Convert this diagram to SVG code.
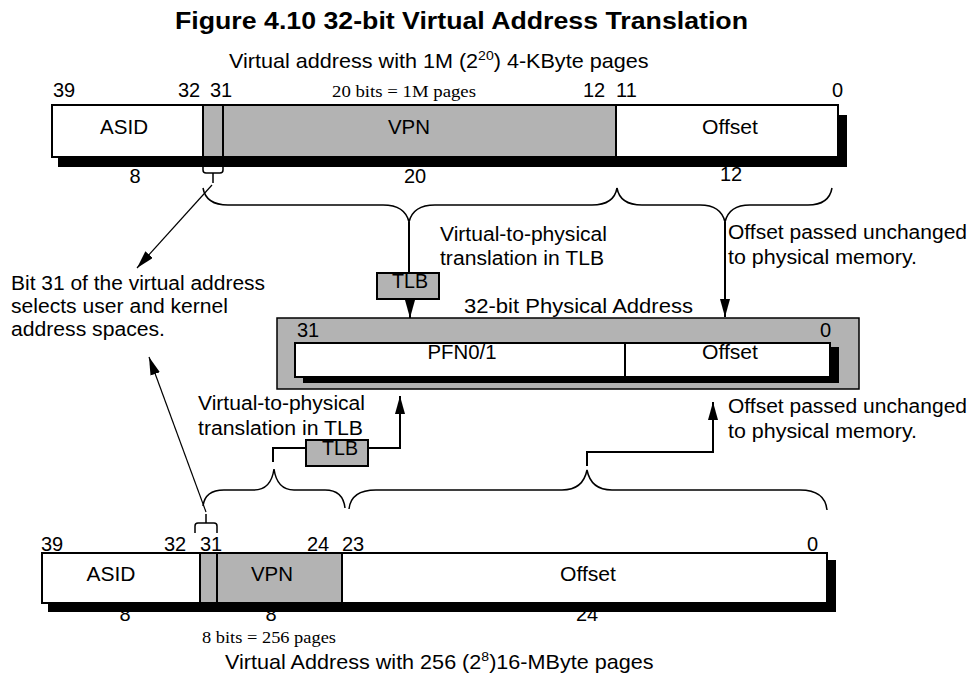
<svg xmlns="http://www.w3.org/2000/svg" width="974" height="686" viewBox="0 0 974 686">
<style>
text{font-family:"Liberation Sans",Arial,sans-serif;font-size:20px;fill:#000}
.serif{font-family:"Liberation Serif","Times New Roman",serif;font-size:16.5px}
.title{font-weight:bold;font-size:23px}
.mid{text-anchor:middle}
.box{fill:#fff;stroke:#000;stroke-width:2}
.gray{fill:#b3b3b3}
.sh{fill:#000}
.ln{stroke:#000;stroke-width:2;fill:none}
.br{stroke:#000;stroke-width:1.5;fill:none}
.thin{stroke:#000;stroke-width:1.2;fill:none}
.tlb{fill:#b3b3b3;stroke:#000;stroke-width:2}
</style>
<defs>
<marker id="ah" viewBox="0 0 18 10" refX="18" refY="5" markerWidth="18" markerHeight="10" markerUnits="userSpaceOnUse" orient="auto">
<path d="M0,0 L18,5 L0,10 z" fill="#000"/>
</marker>
</defs>

<g id="title">
<text class="title" x="175" y="29" textLength="573" lengthAdjust="spacingAndGlyphs">Figure 4.10  32-bit Virtual Address Translation</text>
</g>

<g id="va-top-caption">
<text transform="translate(229,68) scale(1.08,1)">Virtual address with 1M (2<tspan font-size="13" dy="-8">20</tspan><tspan dy="8">) 4-KByte pages</tspan></text>
</g>

<g id="va-top">
<text x="53" y="97">39</text>
<text x="178" y="97">32</text>
<text x="210" y="97">31</text>
<text class="serif" x="332" y="97" textLength="144" lengthAdjust="spacingAndGlyphs">20 bits = 1M pages</text>
<text x="583" y="97">12</text>
<text x="616" y="97">11</text>
<text x="832" y="97">0</text>
<rect class="sh" x="58" y="157" width="789" height="10"/>
<rect class="sh" x="838" y="115" width="9" height="52"/>
<rect class="box" x="52" y="105" width="786" height="52"/>
<rect class="gray" x="203" y="106" width="413" height="50"/>
<line class="ln" x1="203" y1="105" x2="203" y2="157"/>
<line class="ln" x1="223" y1="105" x2="223" y2="157"/>
<line class="ln" x1="616" y1="105" x2="616" y2="157"/>
<text class="mid" x="124" y="134" textLength="48" lengthAdjust="spacingAndGlyphs">ASID</text>
<text class="mid" x="409" y="134" textLength="42" lengthAdjust="spacingAndGlyphs">VPN</text>
<text class="mid" x="730" y="134" textLength="56" lengthAdjust="spacingAndGlyphs">Offset</text>
<text class="mid" x="135" y="183">8</text>
<text class="mid" x="415" y="183">20</text>
<text class="mid" x="731" y="181">12</text>
</g>

<g id="note-bit31">
<text x="11" y="290" textLength="254" lengthAdjust="spacingAndGlyphs">Bit 31 of the virtual address</text>
<text x="11" y="313" textLength="217" lengthAdjust="spacingAndGlyphs">selects user and kernel</text>
<text x="11" y="336" textLength="154" lengthAdjust="spacingAndGlyphs">address spaces.</text>
</g>

<g id="note-tlb-top">
<text x="440" y="241" textLength="167" lengthAdjust="spacingAndGlyphs">Virtual-to-physical</text>
<text x="440" y="265" textLength="164" lengthAdjust="spacingAndGlyphs">translation in TLB</text>
</g>

<g id="note-offset-top">
<text x="728" y="239" textLength="239" lengthAdjust="spacingAndGlyphs">Offset passed unchanged</text>
<text x="728" y="264" textLength="189" lengthAdjust="spacingAndGlyphs">to physical memory.</text>
</g>

<g id="tlb-top">
<rect class="tlb" x="377" y="273" width="62" height="26"/>
<text class="mid" x="410" y="288" textLength="36" lengthAdjust="spacingAndGlyphs">TLB</text>
</g>

<g id="pa">
<text x="464" y="313" textLength="229" lengthAdjust="spacingAndGlyphs">32-bit Physical Address</text>
<rect x="277" y="318" width="582" height="71" fill="#b3b3b3" stroke="#000" stroke-width="1.5"/>
<rect class="sh" x="303" y="377" width="536" height="6"/>
<rect class="sh" x="830" y="347" width="9" height="36"/>
<rect class="box" x="295" y="343" width="535" height="34"/>
<line class="ln" x1="625" y1="343" x2="625" y2="377"/>
<text x="297" y="337">31</text>
<text x="820" y="337">0</text>
<text class="mid" x="462" y="359" textLength="69" lengthAdjust="spacingAndGlyphs">PFN0/1</text>
<text class="mid" x="730" y="359" textLength="56" lengthAdjust="spacingAndGlyphs">Offset</text>
</g>

<g id="note-tlb-bottom">
<text x="198" y="410" textLength="167" lengthAdjust="spacingAndGlyphs">Virtual-to-physical</text>
<text x="198" y="435" textLength="165" lengthAdjust="spacingAndGlyphs">translation in TLB</text>
</g>

<g id="note-offset-bottom">
<text x="728" y="413" textLength="239" lengthAdjust="spacingAndGlyphs">Offset passed unchanged</text>
<text x="728" y="438" textLength="189" lengthAdjust="spacingAndGlyphs">to physical memory.</text>
</g>

<g id="tlb-bottom">
<rect class="tlb" x="306" y="440" width="62" height="26"/>
<text class="mid" x="340" y="455" textLength="36" lengthAdjust="spacingAndGlyphs">TLB</text>
</g>

<g id="va-bottom">
<text x="41" y="551">39</text>
<text x="164" y="551">32</text>
<text x="200" y="551">31</text>
<text x="307" y="551">24</text>
<text x="342" y="551">23</text>
<text x="807" y="551">0</text>
<text class="mid" x="125" y="621">8</text>
<text class="mid" x="271" y="621">8</text>
<text class="mid" x="587" y="621">24</text>
<rect class="sh" x="48" y="603" width="788" height="9"/>
<rect class="sh" x="827" y="560" width="9" height="52"/>
<rect class="box" x="42" y="553" width="785" height="50"/>
<rect class="gray" x="200" y="554" width="142" height="48"/>
<line class="ln" x1="200" y1="553" x2="200" y2="603"/>
<line class="ln" x1="217" y1="553" x2="217" y2="603"/>
<line class="ln" x1="342" y1="553" x2="342" y2="603"/>
<text class="mid" x="111" y="581" textLength="49" lengthAdjust="spacingAndGlyphs">ASID</text>
<text class="mid" x="272" y="581" textLength="42" lengthAdjust="spacingAndGlyphs">VPN</text>
<text class="mid" x="588" y="581" textLength="56" lengthAdjust="spacingAndGlyphs">Offset</text>
<text class="serif" x="202" y="643" textLength="134" lengthAdjust="spacingAndGlyphs">8 bits = 256 pages</text>
</g>

<g id="va-bottom-caption">
<text transform="translate(225,669) scale(1.08,1)">Virtual Address with 256 (2<tspan font-size="13" dy="-8">8</tspan><tspan dy="8">)16-MByte pages</tspan></text>
</g>

<g id="connectors">
<path class="br" d="M203 167 L203 170 Q203 173 206 173 L220 173 Q223 173 223 170 L223 167 M213 173 L213 183"/>
<path class="thin" d="M212 185 L137 268" marker-end="url(#ah)"/>
<path class="br" d="M203 188 Q206 205 228 205 L383 205 Q405 205 409 222 Q413 205 435 205 L592 205 Q614 205 617 188"/>
<path class="br" d="M617 188 Q620 205 642 205 L700 205 Q721 205 725 222 Q729 205 750 205 L808 205 Q829 205 832 188"/>
<path class="ln" d="M409 222 L409 273"/>
<path class="ln" d="M410 299 L410 318" marker-end="url(#ah)"/>
<path class="ln" d="M725 222 L725 317" marker-end="url(#ah)"/>
<path class="ln" d="M368 448 L400 448 L400 396" marker-end="url(#ah)"/>
<path class="ln" d="M306 448 L273 448 L273 462"/>
<path class="br" d="M203 506 Q205 490 224 490 L254 490 Q271 490 274 469 Q277 490 294 490 L325 490 Q343 490 345 508"/>
<path class="br" d="M349 509 Q351 490 376 490 L562 490 Q583 490 587 470 Q591 490 612 490 L800 490 Q825 490 827 510"/>
<path class="ln" d="M587 466 L587 452 L713 452 L713 402" marker-end="url(#ah)"/>
<path class="br" d="M195 533 L195 526 Q195 523 198 523 L214 523 Q217 523 217 526 L217 533 M206 523 L206 514"/>
<path class="thin" d="M206 512 L149 357" marker-end="url(#ah)"/>
</g>
</svg>
